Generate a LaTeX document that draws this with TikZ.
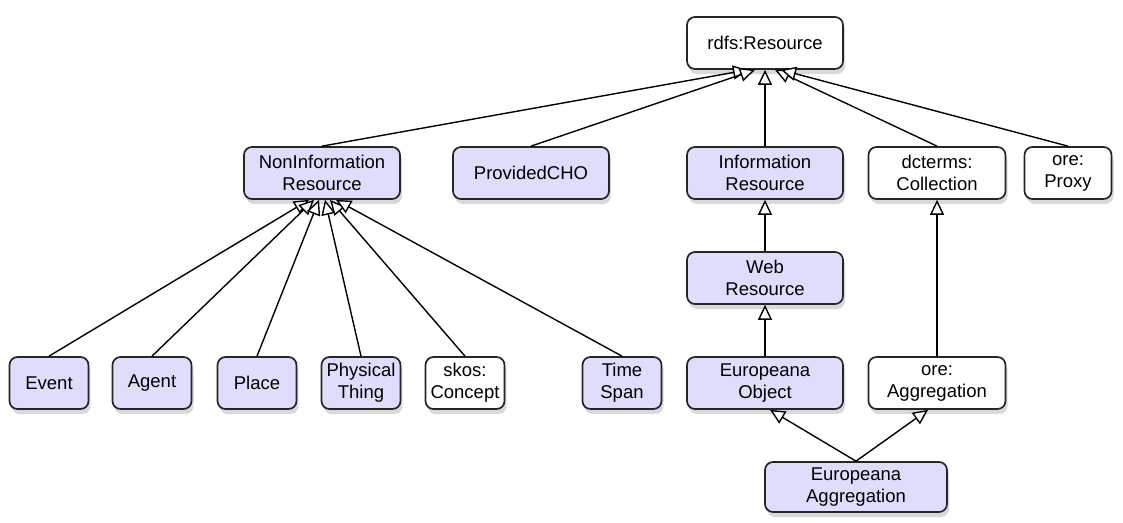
\documentclass[tikz,border=0pt]{standalone}
\usepackage{fontspec}
\setmainfont{Liberation Sans}
\usetikzlibrary{arrows.meta, shadows}

\definecolor{lavender}{RGB}{222,222,252}

\begin{document}
\begin{tikzpicture}[x=1pt, y=-1pt, line width=1.4pt]
				\tikzstyle{cls} = [draw=black!85, line width=1.7pt, rounded corners=8pt, fill=lavender, align=center, font=\fontsize{18.5}{22}\selectfont, minimum height=52pt, inner sep=2pt, drop shadow={opacity=0.3, shadow xshift=2pt, shadow yshift=-5pt}]
				\tikzstyle{ext} = [cls, fill=white]
				\tikzstyle{isa} = [-{Triangle[open, length=15pt, width=14pt, fill=white]}]
				
				\useasboundingbox (0, 0) rectangle (1123, 522);
				
				\node[ext, minimum width=156pt] 	at (765, 43) 	(rdfs) 	{rdfs:Resource};
				
				\node[cls, minimum width=156pt] 	at (322, 173) 	(noninfo) 	{NonInformation\\Resource};
				\node[cls, minimum width=156pt] 	at (531, 173) 	(cho) 	{ProvidedCHO};
				\node[cls, minimum width=156pt] 	at (765, 173) 	(info) 	{Information\\Resource};
				\node[ext, minimum width=137pt] 	at (937, 173) 	(coll) 	{dcterms:\\Collection};
				\node[ext, minimum width=87pt] 	at (1068, 173) 	(proxy) 	{ore:\\Proxy};
				
				\node[cls, minimum width=156pt] 	at (765, 278) 	(web) 	{Web\\Resource};
				
				\node[cls, minimum width=79pt] 	at (49, 383) 	(event) 	{Event};
				\node[cls, minimum width=79pt] 	at (152, 383) 	(agent) 	{Agent};
				\node[cls, minimum width=79pt] 	at (257, 383) 	(place) 	{Place};
				\node[cls, minimum width=79pt] 	at (361, 383) 	(thing) 	{Physical\\Thing};
				\node[ext, minimum width=79pt] 	at (465, 383) 	(concept) 	{skos:\\Concept};
				\node[cls, minimum width=79pt] 	at (622, 383) 	(span) 	{Time\\Span};
				\node[cls, minimum width=156pt] 	at (765, 383) 	(object) 	{Europeana\\Object};
				\node[ext, minimum width=137pt] 	at (937, 383) 	(aggr) 	{ore:\\Aggregation};
				
				\node[cls, minimum width=182pt, minimum height=50pt] 	at (856, 487) 	(euaggr) 	{Europeana\\Aggregation};
				
				\path[isa]
				(noninfo.north)	edge	([xshift=-17pt]rdfs.south)
				(cho.north)	edge	([xshift=-10pt]rdfs.south)
				(info.north)	edge	(rdfs.south)
				(coll.north)	edge	([xshift=10pt]rdfs.south)
				(proxy.north)	edge	([xshift=16pt]rdfs.south)
				(event.north)	edge	([xshift=-13pt]noninfo.south)
				(agent.north)	edge	([xshift=-8pt]noninfo.south)
				(place.north)	edge	([xshift=-3pt]noninfo.south)
				(thing.north)	edge	([xshift=3pt]noninfo.south)
				(concept.north)	edge	([xshift=8pt]noninfo.south)
				(span.north)	edge	([xshift=14pt]noninfo.south)
				(web.north)	edge	(info.south)
				(object.north)	edge	(web.south)
				(aggr.north)	edge	(coll.south)
				(euaggr.north)	edge	([xshift=5pt]object.south)
				(euaggr.north)	edge	([xshift=-9pt]aggr.south);
\end{tikzpicture}
\end{document}
